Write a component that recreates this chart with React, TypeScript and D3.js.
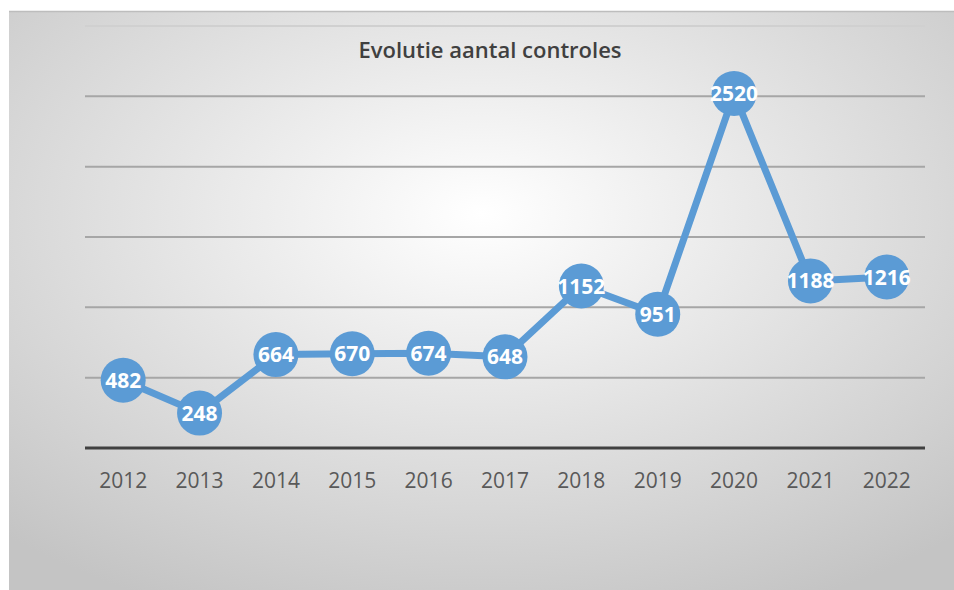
import React from "react";
import * as d3 from "d3";

const years = ["2012", "2013", "2014", "2015", "2016", "2017", "2018", "2019", "2020", "2021", "2022"];
const controles = [482, 248, 664, 670, 674, 648, 1152, 951, 2520, 1188, 1216];
const gridTicks = [500, 1000, 1500, 2000, 2500, 3000];
const title = "Evolutie aantal controles";

const W = 954;
const H = 590;

export default function App() {
  const x = d3.scaleBand<string>().domain(years).range([85, 925]).padding(0);
  const y = d3.scaleLinear().domain([0, 3000]).range([448, 26]);
  const cx = (d: string) => (x(d) as number) + x.bandwidth() / 2;
  const line = d3
    .line<number>()
    .x((_, i) => cx(years[i]))
    .y((v) => y(v));

  return (
    <svg width={W} height={H} style={{ position: "absolute", left: 0, top: 0 }}>
      <defs>
        <radialGradient id="bg" cx="50%" cy="35%" r="75%" fx="50%" fy="35%">
          <stop offset="0%" stopColor="#ffffff" />
          <stop offset="100%" stopColor="#c4c4c4" />
        </radialGradient>
      </defs>
      <rect x={0} y={0} width={W} height={H} fill="#ffffff" />
      <rect x={9} y={11} width={W - 9} height={H - 11} fill="url(#bg)" />
      <line x1={9} x2={W} y1={11.5} y2={11.5} stroke="#bdbdbd" strokeWidth={1.5} />
      {gridTicks.map((t) => (
        <line key={t} x1={85} x2={925} y1={y(t)} y2={y(t)} stroke={t === 3000 ? "#d0d0d0" : "#a6a6a6"} strokeWidth={2} />
      ))}
      <line x1={85} x2={925} y1={y(0)} y2={y(0)} stroke="#404040" strokeWidth={3} />
      {years.map((yr) => (
        <text
          key={yr}
          x={cx(yr)}
          y={488}
          textAnchor="middle"
          fontFamily="Open Sans, sans-serif"
          fontSize={21}
          fill="#595959"
        >
          {yr}
        </text>
      ))}
      <text
        x={490}
        y={58}
        textAnchor="middle"
        fontFamily="Open Sans, sans-serif"
        fontWeight={600}
        fontSize={22}
        fill="#404040"
      >
        {title}
      </text>
      <path d={line(controles) || ""} fill="none" stroke="#5B9BD5" strokeWidth={7} strokeLinejoin="round" />
      {controles.map((v, i) => (
        <g key={years[i]}>
          <circle cx={cx(years[i])} cy={y(v)} r={22.5} fill="#5B9BD5" />
          <text
            x={cx(years[i])}
            y={y(v)}
            dy="0.36em"
            textAnchor="middle"
            fontFamily="Open Sans, sans-serif"
            fontWeight={700}
            fontSize={21}
            fill="#ffffff"
          >
            {v}
          </text>
        </g>
      ))}
    </svg>
  );
}
